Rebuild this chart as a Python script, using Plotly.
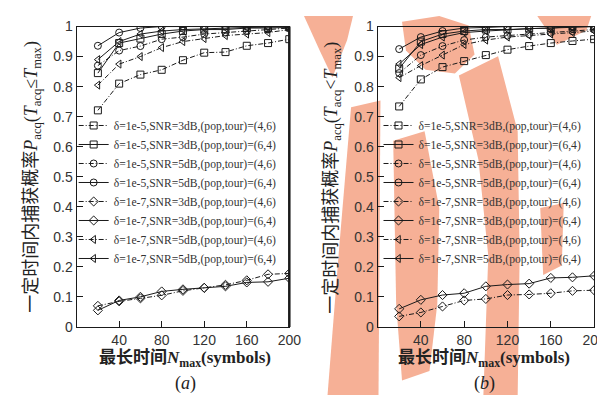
import plotly.graph_objects as go

# ---------------- data ----------------
n_max = [20, 40, 60, 80, 100, 120, 140, 160, 180, 200]

series_labels = [
    "δ=1e-5,SNR=3dB,(pop,tour)=(4,6)",
    "δ=1e-5,SNR=3dB,(pop,tour)=(6,4)",
    "δ=1e-5,SNR=5dB,(pop,tour)=(4,6)",
    "δ=1e-5,SNR=5dB,(pop,tour)=(6,4)",
    "δ=1e-7,SNR=3dB,(pop,tour)=(4,6)",
    "δ=1e-7,SNR=3dB,(pop,tour)=(6,4)",
    "δ=1e-7,SNR=5dB,(pop,tour)=(4,6)",
    "δ=1e-7,SNR=5dB,(pop,tour)=(6,4)",
]

# panel (a)
a_1e5_3dB_46 = [0.721, 0.81, 0.84, 0.856, 0.888, 0.913, 0.915, 0.936, 0.945, 0.958]
a_1e5_3dB_64 = [0.845, 0.945, 0.96, 0.975, 0.985, 0.99, 0.99, 0.995, 0.995, 0.997]
a_1e5_5dB_46 = [0.87, 0.92, 0.935, 0.958, 0.965, 0.975, 0.98, 0.985, 0.99, 0.995]
a_1e5_5dB_64 = [0.936, 0.98, 0.995, 1.0, 1.0, 1.0, 1.0, 1.0, 1.0, 1.0]
a_1e7_3dB_46 = [0.07, 0.085, 0.095, 0.105, 0.12, 0.13, 0.14, 0.155, 0.175, 0.178]
a_1e7_3dB_64 = [0.055, 0.088, 0.1, 0.118, 0.125, 0.13, 0.135, 0.148, 0.15, 0.162]
a_1e7_5dB_46 = [0.805, 0.875, 0.9, 0.93, 0.95, 0.96, 0.97, 0.975, 0.98, 0.99]
a_1e7_5dB_64 = [0.89, 0.95, 0.975, 0.985, 0.99, 0.993, 0.995, 0.997, 0.998, 1.0]

# panel (b)
b_1e5_3dB_46 = [0.734, 0.824, 0.865, 0.885, 0.905, 0.923, 0.935, 0.945, 0.952, 0.958]
b_1e5_3dB_64 = [0.86, 0.95, 0.975, 0.985, 0.99, 0.99, 0.993, 0.995, 1.0, 1.0]
b_1e5_5dB_46 = [0.845, 0.905, 0.935, 0.955, 0.965, 0.97, 0.975, 0.98, 0.985, 0.99]
b_1e5_5dB_64 = [0.925, 0.965, 0.985, 0.995, 0.997, 1.0, 1.0, 1.0, 1.0, 1.0]
b_1e7_3dB_46 = [0.035, 0.048, 0.068, 0.088, 0.093, 0.106, 0.108, 0.112, 0.12, 0.122]
b_1e7_3dB_64 = [0.06, 0.09, 0.106, 0.112, 0.135, 0.141, 0.144, 0.163, 0.165, 0.17]
b_1e7_5dB_46 = [0.83, 0.87, 0.905, 0.94, 0.955, 0.965, 0.97, 0.975, 0.98, 0.985]
b_1e7_5dB_64 = [0.875, 0.94, 0.965, 0.98, 0.985, 0.99, 0.993, 0.995, 0.997, 1.0]

panel_a = [a_1e5_3dB_46, a_1e5_3dB_64, a_1e5_5dB_46, a_1e5_5dB_64,
           a_1e7_3dB_46, a_1e7_3dB_64, a_1e7_5dB_46, a_1e7_5dB_64]
panel_b = [b_1e5_3dB_46, b_1e5_3dB_64, b_1e5_5dB_46, b_1e5_5dB_64,
           b_1e7_3dB_46, b_1e7_3dB_64, b_1e7_5dB_46, b_1e7_5dB_64]

x_ticks = [40, 80, 120, 160, 200]
y_ticks = [0, 0.1, 0.2, 0.3, 0.4, 0.5, 0.6, 0.7, 0.8, 0.9, 1]
y_tick_text = ["0", "0.1", "0.2", "0.3", "0.4", "0.5", "0.6", "0.7", "0.8", "0.9", "1"]

# ---------------- styles ----------------
symbols = ["square-open", "square-open", "circle-open", "circle-open",
           "diamond-open", "diamond-open", "triangle-left-open", "triangle-left-open"]
dashes = ["5px,2px,1px,2px", "solid"] * 4

W, H = 605, 395
INK = "#1a1a1a"
WATERMARK = "rgb(246,176,150)"

def px_x(p):
    return p / W

def px_y(p):
    return 1 - p / H

fig = go.Figure()

for panel, (xa, ya, leg) in ((panel_a, ("x", "y", "legend")), (panel_b, ("x2", "y2", "legend2"))):
    for vals, lab, sym, dsh in zip(panel, series_labels, symbols, dashes):
        fig.add_trace(go.Scatter(
            x=n_max, y=vals, name=lab, mode="lines+markers",
            xaxis=xa, yaxis=ya, legend=leg,
            line=dict(color=INK, width=1, dash=dsh),
            marker=dict(symbol=sym, size=7, color=INK, line=dict(width=1, color=INK)),
        ))

axis_common = dict(
    showline=True, linecolor=INK, linewidth=1, mirror=True,
    ticks="inside", ticklen=6, tickwidth=1, tickcolor=INK,
    showgrid=False, zeroline=False,
    tickfont=dict(family="Liberation Sans, Arial", size=14, color="#333"),
)

y_top, y_bot = 11, 324
dom_y = [px_y(y_bot), px_y(y_top)]
legend_font = dict(family="Liberation Serif, Times New Roman", size=11.6, color="#333")

fig.update_layout(
    width=W, height=H,
    margin=dict(l=0, r=0, t=0, b=0),
    paper_bgcolor="white", plot_bgcolor="rgba(0,0,0,0)",
    showlegend=True,
    xaxis=dict(domain=[px_x(70), px_x(287)], range=[0, 200], tickvals=x_ticks, anchor="y", **axis_common),
    yaxis=dict(domain=dom_y, range=[0, 1], tickvals=y_ticks, ticktext=y_tick_text, anchor="x", **axis_common),
    xaxis2=dict(domain=[px_x(377), px_x(598)], range=[0, 200], tickvals=x_ticks, anchor="y2", **axis_common),
    yaxis2=dict(domain=dom_y, range=[0, 1], tickvals=y_ticks, ticktext=y_tick_text, anchor="x2", **axis_common),
    legend=dict(x=px_x(67), y=px_y(99), xanchor="left", yanchor="top",
                bgcolor="rgba(0,0,0,0)", tracegroupgap=0, font=legend_font),
    legend2=dict(x=px_x(378), y=px_y(99), xanchor="left", yanchor="top",
                 bgcolor="rgba(0,0,0,0)", tracegroupgap=0, font=legend_font),
)

# decorative background watermark (approximate outline, in page pixels)
watermark_polys = [
    [(302, 0), (352, 0), (346, 25), (331, 64), (318, 36)],
    [(350, 95), (380, 88), (378, 395), (326, 395), (338, 240)],
    [(402, 6), (440, 0), (470, 10), (476, 40), (456, 60), (426, 56), (406, 36)],
    [(393, 130), (425, 120), (440, 200), (438, 300), (430, 370), (402, 380), (396, 300)],
    [(460, 62), (500, 42), (520, 120), (522, 250), (520, 395), (485, 395), (490, 250), (480, 150)],
    [(540, 0), (595, 0), (590, 15), (560, 30)],
    [(543, 200), (567, 195), (565, 260), (546, 270)],
]
for poly in watermark_polys:
    pth = "M" + " L".join(f"{px_x(px):.5f},{px_y(py):.5f}" for px, py in poly) + " Z"
    fig.add_shape(type="path", path=pth, xref="paper", yref="paper", layer="below",
                  fillcolor=WATERMARK, line=dict(width=0))

# thicker right frame of panel (a)
fig.add_shape(type="line", xref="x domain", yref="y domain", x0=1, x1=1, y0=0, y1=1,
              line=dict(color=INK, width=2.5))

ytitle_a = "一定时间内捕获概率<i>P</i><sub>acq</sub>(<i>T</i><sub>acq</sub>≤<i>T</i><sub>max</sub>)"
ytitle_b = "一定时间内捕获概率<i>P</i><sub>acq</sub>(<i>T</i><sub>acq</sub>&lt;<i>T</i><sub>max</sub>)"
xtitle = "<b>最长时间<i>N</i><sub>max</sub>(symbols)</b>"
title_font = dict(family="Liberation Serif, Noto Sans CJK SC", size=18, color="#222")

for xc, ytxt, cap, xcap in ((25, ytitle_a, "(<i>a</i>)", 181), (331, ytitle_b, "(<i>b</i>)", 486)):
    fig.add_annotation(xref="paper", yref="paper", x=px_x(xc), y=px_y(168), text=ytxt,
                       textangle=-90, showarrow=False, font=title_font,
                       xanchor="center", yanchor="middle")
    fig.add_annotation(xref="paper", yref="paper", x=px_x(xcap), y=px_y(357), text=xtitle,
                       showarrow=False, font=dict(family="Liberation Serif, Noto Sans CJK SC", size=17, color="#222"),
                       xanchor="center", yanchor="middle")
    fig.add_annotation(xref="paper", yref="paper", x=px_x(xcap), y=px_y(383), text=cap,
                       showarrow=False, font=dict(family="Liberation Serif", size=18, color="#222"),
                       xanchor="center", yanchor="middle")

fig.write_html("out.html")
